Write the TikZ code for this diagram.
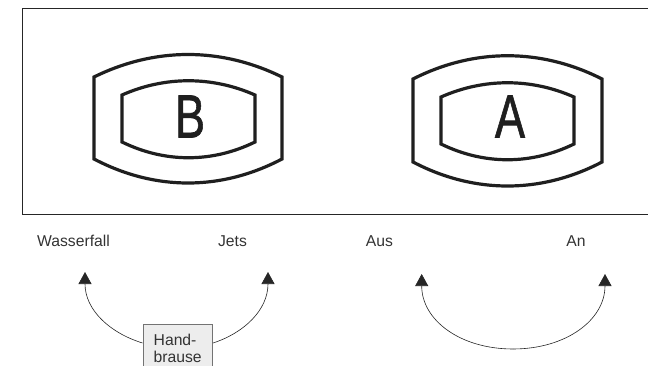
\documentclass[tikz,border=0pt]{standalone}
\usepackage{fontspec}
\setmainfont{Liberation Sans}
\newfontfamily\letterfont[FakeBold=1.2]{Liberation Sans}
\usetikzlibrary{arrows.meta}
\tikzset{
  frame/.style={draw=black!85,line width=1pt},
  badge/.style={draw=black!88,line width=3.2pt,line join=miter},
  letter/.style={inner sep=0pt,text=black!88,font=\letterfont\fontsize{61}{61}\selectfont,xscale=.74},
  lab/.style={inner sep=0pt,anchor=base,text=black!80,font=\fontsize{15.7}{18}\selectfont},
  flow/.style={draw=black!85,line width=.6pt,-{Triangle[length=12pt,width=13pt]}},
  hand/.style={draw=black!55,fill=black!7,line width=1pt,minimum width=69.5pt,minimum height=50pt,inner sep=0pt}
}
\begin{document}
\begin{tikzpicture}[x=1pt,y=-1pt]
\useasboundingbox (0,0) rectangle (648,366);
\clip (0,0) rectangle (648,366);
\draw[frame] (22,215) -- (22,9) -- (648,9) (22,215) -- (648,215);
% B
\draw[badge] (94,77) .. controls (155,47) and (221,47) .. (282,77) -- (282,159) .. controls (221,191) and (155,191) .. (94,159) -- cycle;
\draw[badge] (122,95) .. controls (165,76) and (212,76) .. (255,95) -- (255,142) .. controls (212,163) and (165,163) .. (122,142) -- cycle;
\node[letter] (b) at (190,116.5) {B};
% A
\draw[badge] (413,79) .. controls (474,48) and (541,48) .. (602,79) -- (602,162) .. controls (541,194) and (474,194) .. (413,162) -- cycle;
\draw[badge] (441,97) .. controls (484,78) and (531,78) .. (574,97) -- (574,144) .. controls (531,165) and (484,165) .. (441,144) -- cycle;
\node[letter] (a) at (510,116.5) {A};
% labels
\node[lab] (w) at (73.5,247) {Wasserfall};
\node[lab] (j) at (232.5,247) {Jets};
\node[lab] (aus) at (379.5,247) {Aus};
\node[lab] (an) at (576,247) {An};
% hand shower
\node[hand,anchor=north west] (hb) at (142.5,324) {};
\node[lab,anchor=base west] (h1) at (153.5,345) {Hand-};
\node[lab,anchor=base west] (h2) at (153.5,362) {brause};
\coordinate (tw) at (85,272);
\coordinate (tj) at (268,272);
\coordinate (taus) at (421.7,274);
\coordinate (tan) at (605,274);
\coordinate (low) at (513,349);
\draw[flow] (hb.north west |- 0,343) .. controls (110,333) and (85,310) .. (tw);
\draw[flow] (hb.north east |- 0,343) .. controls (244,333) and (268,310) .. (tj);
\draw[flow] (low) .. controls (460,349) and (421.7,320) .. (taus);
\draw[flow] (low) .. controls (566,349) and (605,320) .. (tan);
\end{tikzpicture}
\end{document}
